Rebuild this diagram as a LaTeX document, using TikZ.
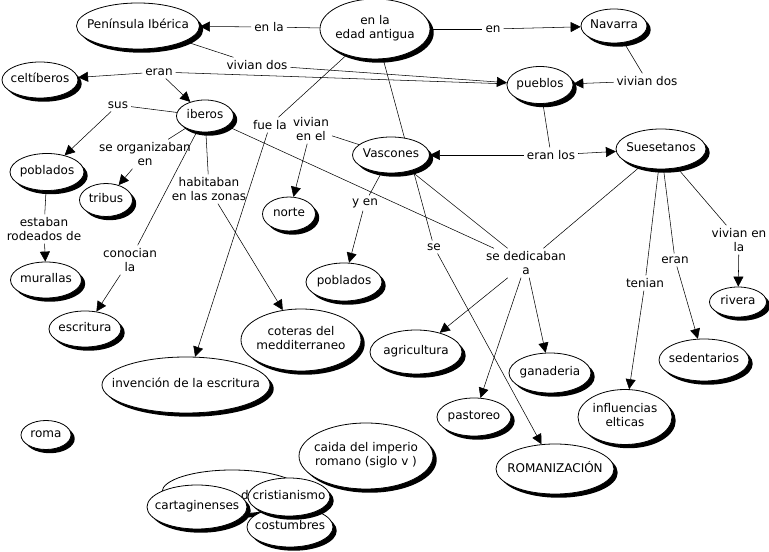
\documentclass[tikz,border=0pt]{standalone}
\usepackage{fontspec}
\setmainfont{DejaVu Sans}
\usepackage{tikz}
\usetikzlibrary{shapes.geometric,arrows.meta,shadows,backgrounds,positioning}

\newcommand{\cmtext}[1]{\makebox[0pt]{\begin{tabular}{@{}c@{}}#1\end{tabular}}}

\begin{document}
\begin{tikzpicture}[x=0.75pt, y=-0.75pt, line width=0.6pt,
    font=\fontsize{9}{10.5}\selectfont,
    concept/.style 2 args={ellipse, draw, fill=white, inner sep=0pt,
        minimum width=#1*0.75pt, minimum height=#2*0.75pt,
        drop shadow={shadow xshift=2.8pt, shadow yshift=-2.8pt, fill=black, opacity=1}},
    linkph/.style={inner sep=2pt, align=center},
    arr/.style={-{Triangle[length=7.5pt, width=7.5pt]}}]

    \useasboundingbox (0,0) rectangle (769,552);

    % concepts
    \node[concept={123}{46}] (peninsula) at (138,26) {\cmtext{Península Ibérica}};
    \node[concept={110}{60}] (edad) at (375,29) {\cmtext{en la\\edad antigua}};
    \node[concept={66}{34}] (navarra) at (614,26) {\cmtext{Navarra}};
    \node[concept={66}{37}] (pueblos) at (540,85) {\cmtext{pueblos}};
    \node[concept={76}{36}] (celtiberos) at (40,80) {\cmtext{celtíberos}};
    \node[concept={57}{32}] (iberos) at (205,116) {\cmtext{iberos}};
    \node[concept={74}{37}] (pobladosA) at (47,172) {\cmtext{poblados}};
    \node[concept={53}{33}] (tribus) at (106,200) {\cmtext{tribus}};
    \node[concept={71}{36}] (murallas) at (46,280) {\cmtext{murallas}};
    \node[concept={72}{36}] (escritura) at (85,329) {\cmtext{escritura}};
    \node[concept={120}{62}] (coteras) at (301,340) {\cmtext{coteras del\\medditerraneo}};
    \node[concept={168}{56}] (invencion) at (186,385) {\cmtext{invención de la escritura}};
    \node[concept={53}{34}] (norte) at (289,214) {\cmtext{norte}};
    \node[concept={77}{36}] (vascones) at (391,155) {\cmtext{Vascones}};
    \node[concept={76}{38}] (pobladosB) at (344,282) {\cmtext{poblados}};
    \node[concept={90}{40}] (suesetanos) at (661,149) {\cmtext{Suesetanos}};
    \node[concept={57}{30}] (rivera) at (738,302) {\cmtext{rivera}};
    \node[concept={90}{42}] (sedentarios) at (704,360) {\cmtext{sedentarios}};
    \node[concept={82}{40}] (ganaderia) at (550,373) {\cmtext{ganaderia}};
    \node[concept={92}{44}] (agricultura) at (416,352) {\cmtext{agricultura}};
    \node[concept={74}{38}] (pastoreo) at (474,417) {\cmtext{pastoreo}};
    \node[concept={94}{55}] (influencias) at (625,417) {\cmtext{influencias\\elticas}};
    \node[concept={118}{50}] (romanizacion) at (555,469) {\cmtext{ROMANIZACIÓN}};
    \node[concept={50}{29}] (roma) at (46,435) {\cmtext{roma}};

    % overlapping group at the bottom
    \node[concept={140}{44}] (hidden) at (232,492) {};
    \node[inner sep=0pt] (hiddentext) at (245,495) {d};
    \node[concept={134}{66}] (caida) at (366,456) {\cmtext{caida del imperio\\romano (siglo v )}};
    \node[concept={86}{40}] (costumbres) at (290,527) {\cmtext{costumbres}};
    \node[concept={82}{38}] (cristianismo) at (289,497) {\cmtext{cristianismo}};
    \node[concept={100}{44}] (cartaginenses) at (197,507) {\cmtext{cartaginenses}};

    % linking phrases
    \node[linkph] (lEnla) at (269,27) {en la};
    \node[linkph] (lEn) at (493,29) {en};
    \node[linkph] (lViv1) at (257,65) {vivian dos};
    \node[linkph] (lEran1) at (159,72) {eran};
    \node[linkph] (lViv2) at (647,81) {vivian dos};
    \node[linkph] (lEranlos) at (551,155) {eran los};
    \node[linkph] (lSus) at (118,105) {sus};
    \node[linkph] (lOrg) at (145,154) {se organizaban\\en};
    \node[linkph] (lHab) at (209,189) {habitaban\\en las zonas};
    \node[linkph] (lCon) at (130,260) {conocian\\la};
    \node[linkph] (lEst) at (44,229) {estaban\\rodeados de};
    \node[linkph] (lFue) at (270,125) {fue la};
    \node[linkph] (lVivel) at (311,129) {vivian\\en el};
    \node[linkph] (lYen) at (365,203) {y en};
    \node[linkph] (lSe) at (434,247) {se};
    \node[linkph] (lDed) at (526,263) {se dedicaban\\a};
    \node[linkph] (lTen) at (645,283) {tenian};
    \node[linkph] (lEran2) at (675,260) {eran};
    \node[linkph] (lVivla) at (739,240) {vivian en\\la};

    % connectors
    \begin{pgfonlayer}{background}
    \draw (edad) -- (lEnla);
    \draw[arr] (lEnla) -- (peninsula);
    \draw (edad) -- (lEn);
    \draw[arr] (lEn) -- (navarra);
    \draw (peninsula) -- (lViv1);
    \draw[arr] (lViv1) -- (pueblos);
    \draw (pueblos) -- (lEran1);
    \draw[arr] (lEran1) -- (celtiberos);
    \draw[arr] (lEran1) -- (iberos);
    \draw (navarra) -- (lViv2);
    \draw[arr] (lViv2) -- (pueblos);
    \draw (pueblos) -- (lEranlos);
    \draw[arr] (lEranlos) -- (vascones);
    \draw[arr] (lEranlos) -- (suesetanos);
    \draw (iberos) -- (lSus);
    \draw[arr] (lSus) -- (pobladosA);
    \draw (iberos) -- (lOrg);
    \draw[arr] (lOrg) -- (tribus);
    \draw (iberos) -- (lHab);
    \draw[arr] (lHab) -- (coteras);
    \draw (iberos) -- (lCon);
    \draw[arr] (lCon) -- (escritura);
    \draw (pobladosA) -- (lEst);
    \draw[arr] (lEst) -- (murallas);
    \draw (edad) -- (lFue);
    \draw[arr] (lFue) -- (invencion);
    \draw (vascones) -- (lVivel);
    \draw[arr] (lVivel) -- (norte);
    \draw (vascones) -- (lYen);
    \draw[arr] (lYen) -- (pobladosB);
    \draw (edad) -- (lSe);
    \draw[arr] (lSe) -- (romanizacion);
    \draw (iberos) -- (lDed);
    \draw (vascones) -- (lDed);
    \draw (suesetanos) -- (lDed);
    \draw[arr] (lDed) -- (agricultura);
    \draw[arr] (lDed) -- (pastoreo);
    \draw[arr] (lDed) -- (ganaderia);
    \draw (suesetanos) -- (lTen);
    \draw[arr] (lTen) -- (influencias);
    \draw (suesetanos) -- (lEran2);
    \draw[arr] (lEran2) -- (sedentarios);
    \draw (suesetanos) -- (lVivla);
    \draw[arr] (lVivla) -- (rivera);
    \end{pgfonlayer}
\end{tikzpicture}
\end{document}
